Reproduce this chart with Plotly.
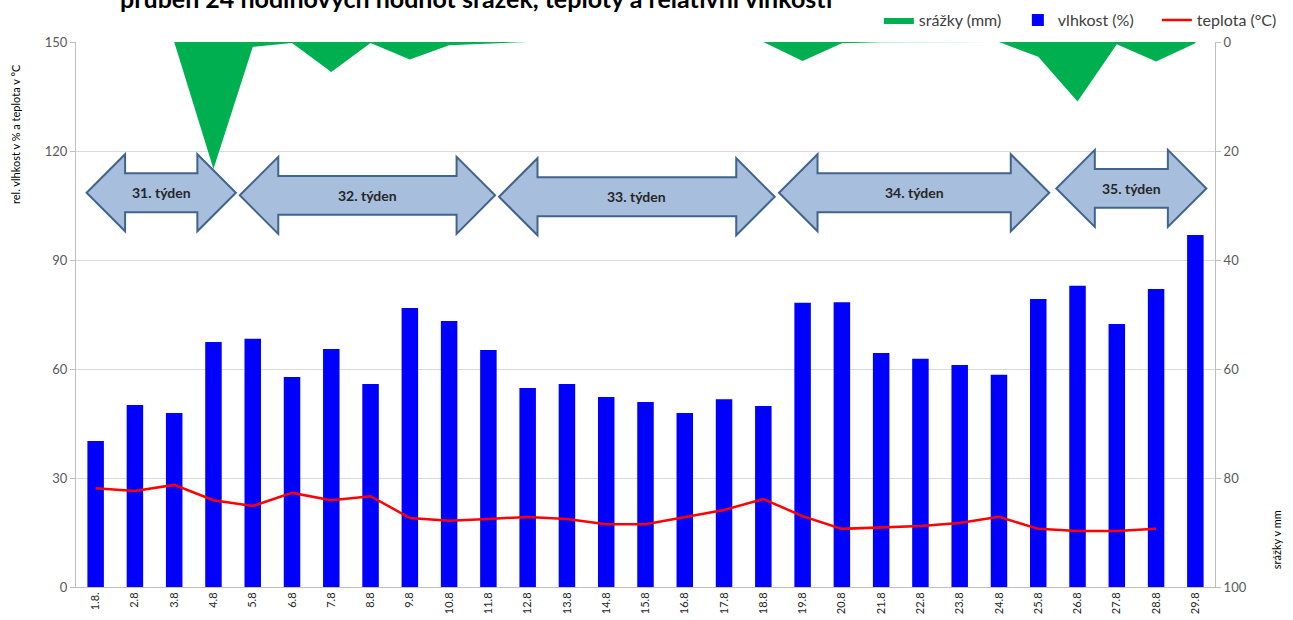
import plotly.graph_objects as go

# --- data -------------------------------------------------------------
days = ["1.8.", "2.8", "3.8", "4.8", "5.8", "6.8", "7.8", "8.8", "9.8", "10.8",
        "11.8", "12.8", "13.8", "14.8", "15.8", "16.8", "17.8", "18.8", "19.8",
        "20.8", "21.8", "22.8", "23.8", "24.8", "25.8", "26.8", "27.8", "28.8", "29.8"]

vlhkost = [40.2, 50.1, 47.9, 67.4, 68.3, 57.8, 65.5, 55.9, 76.8, 73.2,
           65.2, 54.8, 55.9, 52.3, 50.9, 47.9, 51.7, 49.8, 78.2, 78.4,
           64.4, 62.8, 61.1, 58.4, 79.3, 82.9, 72.4, 82.0, 96.9]

teplota = [27.2, 26.4, 28.1, 23.9, 22.3, 25.9, 23.9, 25.0, 19.0, 18.2,
           18.7, 19.3, 18.7, 17.3, 17.3, 19.3, 21.2, 24.2, 19.5, 16.0,
           16.5, 16.8, 17.6, 19.3, 16.0, 15.4, 15.4, 16.0, None]

srazky = [0.0, 0.0, 0.0, 23.3, 0.9, 0.2, 5.5, 0.2, 3.2, 0.6,
          0.3, 0.0, 0.0, 0.0, 0.0, 0.0, 0.0, 0.0, 3.5, 0.25,
          0.05, 0.0, 0.0, 0.0, 2.7, 10.9, 0.4, 3.6, 0.25]

weeks = ["31. týden", "32. týden", "33. týden", "34. týden", "35. týden"]
week_from = [-0.23, 3.67, 10.27, 17.40, 24.46]
week_to = [3.57, 10.17, 17.29, 24.28, 28.28]
week_level = [108.5, 107.8, 107.4, 108.5, 109.7]

FONT = "Lato, 'Liberation Sans', sans-serif"
idx = list(range(len(days)))

fig = go.Figure()

# precipitation, hanging from the top on the reversed right axis
fig.add_trace(go.Scatter(
    x=idx, y=srazky, name="srážky (mm)", yaxis="y2",
    mode="lines", line=dict(width=0, color="#00B050"),
    fill="tozeroy", fillcolor="#00B050", hoverinfo="x+y",
))

fig.add_trace(go.Bar(
    x=idx, y=vlhkost, name="vlhkost (%)", width=0.42,
    marker=dict(color="#0000FF", line=dict(width=0)),
))

fig.add_trace(go.Scatter(
    x=idx, y=teplota, name="teplota (°C)", mode="lines",
    line=dict(color="#FF0000", width=2.5),
))


def arrow_path(x0, x1, yc, head=0.98, hh=10.6, bh=5.35):
    """Double-headed block arrow in data coordinates."""
    pts = [(x0, yc), (x0 + head, yc + hh), (x0 + head, yc + bh),
           (x1 - head, yc + bh), (x1 - head, yc + hh), (x1, yc),
           (x1 - head, yc - hh), (x1 - head, yc - bh),
           (x0 + head, yc - bh), (x0 + head, yc - hh)]
    return "M " + " L ".join(f"{px:.3f},{py:.3f}" for px, py in pts) + " Z"


shapes = []
annotations = []
for label, a, b, lv in zip(weeks, week_from, week_to, week_level):
    shapes.append(dict(
        type="path", xref="x", yref="y", path=arrow_path(a, b, lv),
        fillcolor="#A7BEDD", line=dict(color="#41648F", width=2),
        layer="between",
    ))
    annotations.append(dict(
        x=(a + b) / 2, y=lv, xref="x", yref="y", text=f"<b>{label}</b>",
        showarrow=False, font=dict(family=FONT, size=14, color="#262626"),
    ))

# chart title, sitting right at the top edge of the page
annotations.append(dict(
    x=(118 - 76) / 1139, xref="paper", y=1.05, yref="paper",
    xanchor="left", yanchor="bottom",
    text="<b>průběh 24 hodinových hodnot srážek, teploty a relativní vlhkosti</b>",
    showarrow=False, font=dict(family=FONT, size=25, color="#000000"),
))

annotations.append(dict(
    x=-0.0536, y=0.831, xref="paper", yref="paper", textangle=-90,
    xanchor="center", yanchor="middle",
    text="rel. vlhkost v % a teplota v °C", showarrow=False,
    font=dict(family=FONT, size=11, color="#000000"),
))
annotations.append(dict(
    x=1.0536, y=0.086, xref="paper", yref="paper", textangle=-90,
    xanchor="center", yanchor="middle",
    text="srážky v mm", showarrow=False,
    font=dict(family=FONT, size=11, color="#000000"),
))

fig.update_layout(
    width=1293, height=620,
    margin=dict(l=76, r=78, t=42, b=33, autoexpand=False),
    paper_bgcolor="white", plot_bgcolor="white",
    font=dict(family=FONT, color="#595959"),
    showlegend=True,
    legend=dict(
        orientation="h", x=1.071, xanchor="right", y=1.04, yanchor="middle",
        font=dict(family=FONT, size=16, color="#404040"),
        itemwidth=30, entrywidth=94, traceorder="normal",
        bgcolor="rgba(0,0,0,0)",
    ),
    xaxis=dict(
        range=[-0.5, len(days) - 0.5], tickmode="array", tickvals=idx,
        ticktext=days, tickangle=-90, tickfont=dict(size=11, color="#262626"),
        showgrid=False, showline=True, linecolor="#BFBFBF", linewidth=1,
        ticks="", zeroline=False,
    ),
    yaxis=dict(
        range=[0, 150], dtick=30, tick0=0, showgrid=True, gridcolor="#D9D9D9",
        gridwidth=1, showline=True, linecolor="#BFBFBF", ticks="outside",
        ticklen=5, tickcolor="#BFBFBF", tickfont=dict(size=13, color="#595959"),
        zeroline=False,
    ),
    yaxis2=dict(
        overlaying="y", side="right", range=[100, 0], dtick=20, tick0=0,
        showgrid=False, showline=True, linecolor="#BFBFBF", ticks="outside",
        ticklen=5, tickcolor="#BFBFBF", tickfont=dict(size=13, color="#595959"),
        zeroline=False,
    ),
    shapes=shapes,
    annotations=annotations,
    bargap=0.5,
)

fig.write_html("out.html")
